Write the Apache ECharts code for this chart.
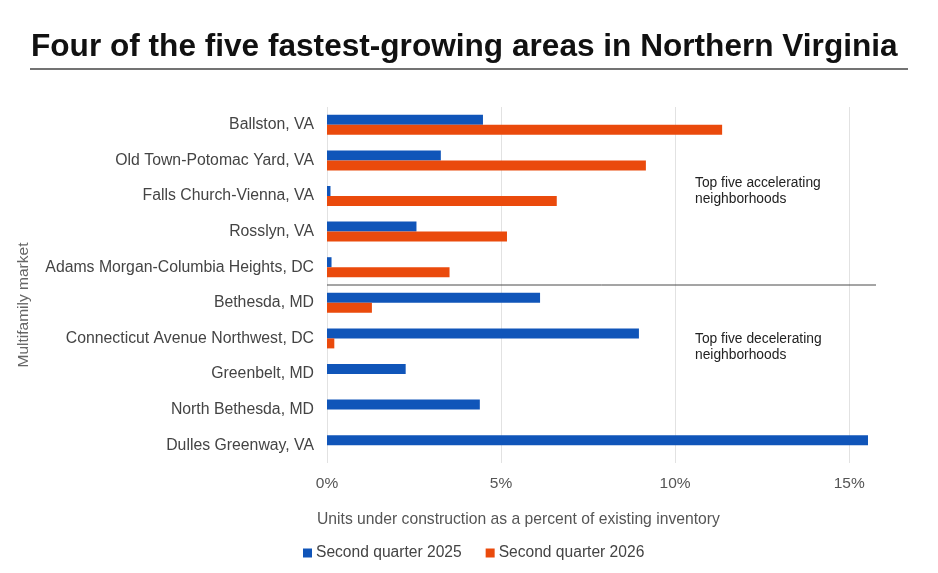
<!DOCTYPE html>
<html>
<head>
<meta charset="utf-8">
<script src="https://cdn.jsdelivr.net/npm/echarts@6.0.0/dist/echarts.min.js"></script>
<style>
  html, body { margin: 0; padding: 0; background: #fff; }
  #chart { width: 938px; height: 573px; }
</style>
</head>
<body>
<div id="chart"></div>
<script>
// Mercados (de arriba hacia abajo)
const markets = [
    'Ballston, VA',
    'Old Town-Potomac Yard, VA',
    'Falls Church-Vienna, VA',
    'Rosslyn, VA',
    'Adams Morgan-Columbia Heights, DC',
    'Bethesda, MD',
    'Connecticut Avenue Northwest, DC',
    'Greenbelt, MD',
    'North Bethesda, MD',
    'Dulles Greenway, VA'
];
// Porcentaje de unidades en construcción
const q2025 = [4.48, 3.27, 0.10, 2.57, 0.13, 6.12, 8.96, 2.26, 4.39, 15.54];
const q2026 = [11.35, 9.16, 6.60, 5.17, 3.52, 1.29, 0.21, 0, 0, 0];
const seriesNames = ['Second quarter 2025', 'Second quarter 2026'];
const xTicks = [0, 5, 10, 15];
const xMax = 15.77;

const chart = echarts.init(document.getElementById('chart'));
const font = 'Liberation Sans, Arial, sans-serif';

const option = {
    backgroundColor: '#fff',
    textStyle: { fontFamily: font },
    title: [
        {
            text: 'Four of the five fastest-growing areas in Northern Virginia',
            left: 26, top: 26,
            textStyle: { fontSize: 31.6, fontWeight: 'bold', color: '#111', fontFamily: font }
        },
        {
            text: 'Units under construction as a percent of existing inventory',
            left: 312, top: 507,
            textStyle: { fontSize: 15.7, fontWeight: 'normal', color: '#555', fontFamily: font }
        }
    ],
    legend: {
        data: seriesNames,
        left: 298, top: 540,
        itemWidth: 9, itemHeight: 9, itemGap: 24,
        icon: 'rect',
        textStyle: { fontSize: 15.6, color: '#444', fontFamily: font, padding: [0, 0, 0, -1] }
    },
    grid: { left: 327, right: 62, top: 107, bottom: 110, containLabel: false },
    xAxis: {
        type: 'value',
        min: 0, max: xMax, interval: 5,
        axisLine: { show: false },
        axisTick: { show: false },
        splitLine: { lineStyle: { color: ['#e2e2e2', '#e2e2e2', '#e2e2e2', '#e2e2e2', 'transparent'] } },
        axisLabel: {
            fontSize: 15.5, color: '#555', margin: 13, showMaxLabel: false,
            formatter: v => xTicks.includes(v) ? v + '%' : ''
        }
    },
    yAxis: {
        type: 'category',
        data: markets,
        inverse: true,
        axisLine: { show: false },
        axisTick: { show: false },
        axisLabel: { fontSize: 15.8, color: '#444', margin: 13 }
    },
    series: [
        {
            name: seriesNames[0], type: 'bar', data: q2025,
            itemStyle: { color: '#1055B9' },
            barWidth: 10, barGap: '0%'
        },
        {
            name: seriesNames[1], type: 'bar', data: q2026,
            itemStyle: { color: '#EA4A0C' },
            barWidth: 10
        }
    ]
};

chart.setOption(option);

// Línea divisoria entre los dos grupos y textos de anotación
const yTop = chart.convertToPixel({ yAxisIndex: 0 }, markets[4]);
const yBot = chart.convertToPixel({ yAxisIndex: 0 }, markets[5]);
const yDiv = (yTop + yBot) / 2;
const x0 = chart.convertToPixel({ xAxisIndex: 0 }, 0);
const x1 = chart.convertToPixel({ xAxisIndex: 0 }, xMax);

chart.setOption({
    graphic: [
        {
            type: 'line', shape: { x1: 30, y1: 69, x2: 908, y2: 69 },
            style: { stroke: '#444', lineWidth: 1.5 }
        },
        {
            type: 'line', shape: { x1: x0, y1: yDiv, x2: x1, y2: yDiv },
            style: { stroke: '#4a4a4a', lineWidth: 1 }, z: 10
        },
        {
            type: 'text', left: 695, top: 175,
            style: { text: 'Top five accelerating\nneighborhoods', fontSize: 13.8, lineHeight: 16, fill: '#222', fontFamily: font }
        },
        {
            type: 'text', left: 695, top: 331,
            style: { text: 'Top five decelerating\nneighborhoods', fontSize: 13.8, lineHeight: 16, fill: '#222', fontFamily: font }
        },
        {
            type: 'text', x: 16, y: 305, rotation: Math.PI / 2,
            style: { text: 'Multifamily market', fontSize: 15.5, fill: '#666', fontFamily: font, align: 'center', verticalAlign: 'top' }
        }
    ]
});
</script>
</body>
</html>
